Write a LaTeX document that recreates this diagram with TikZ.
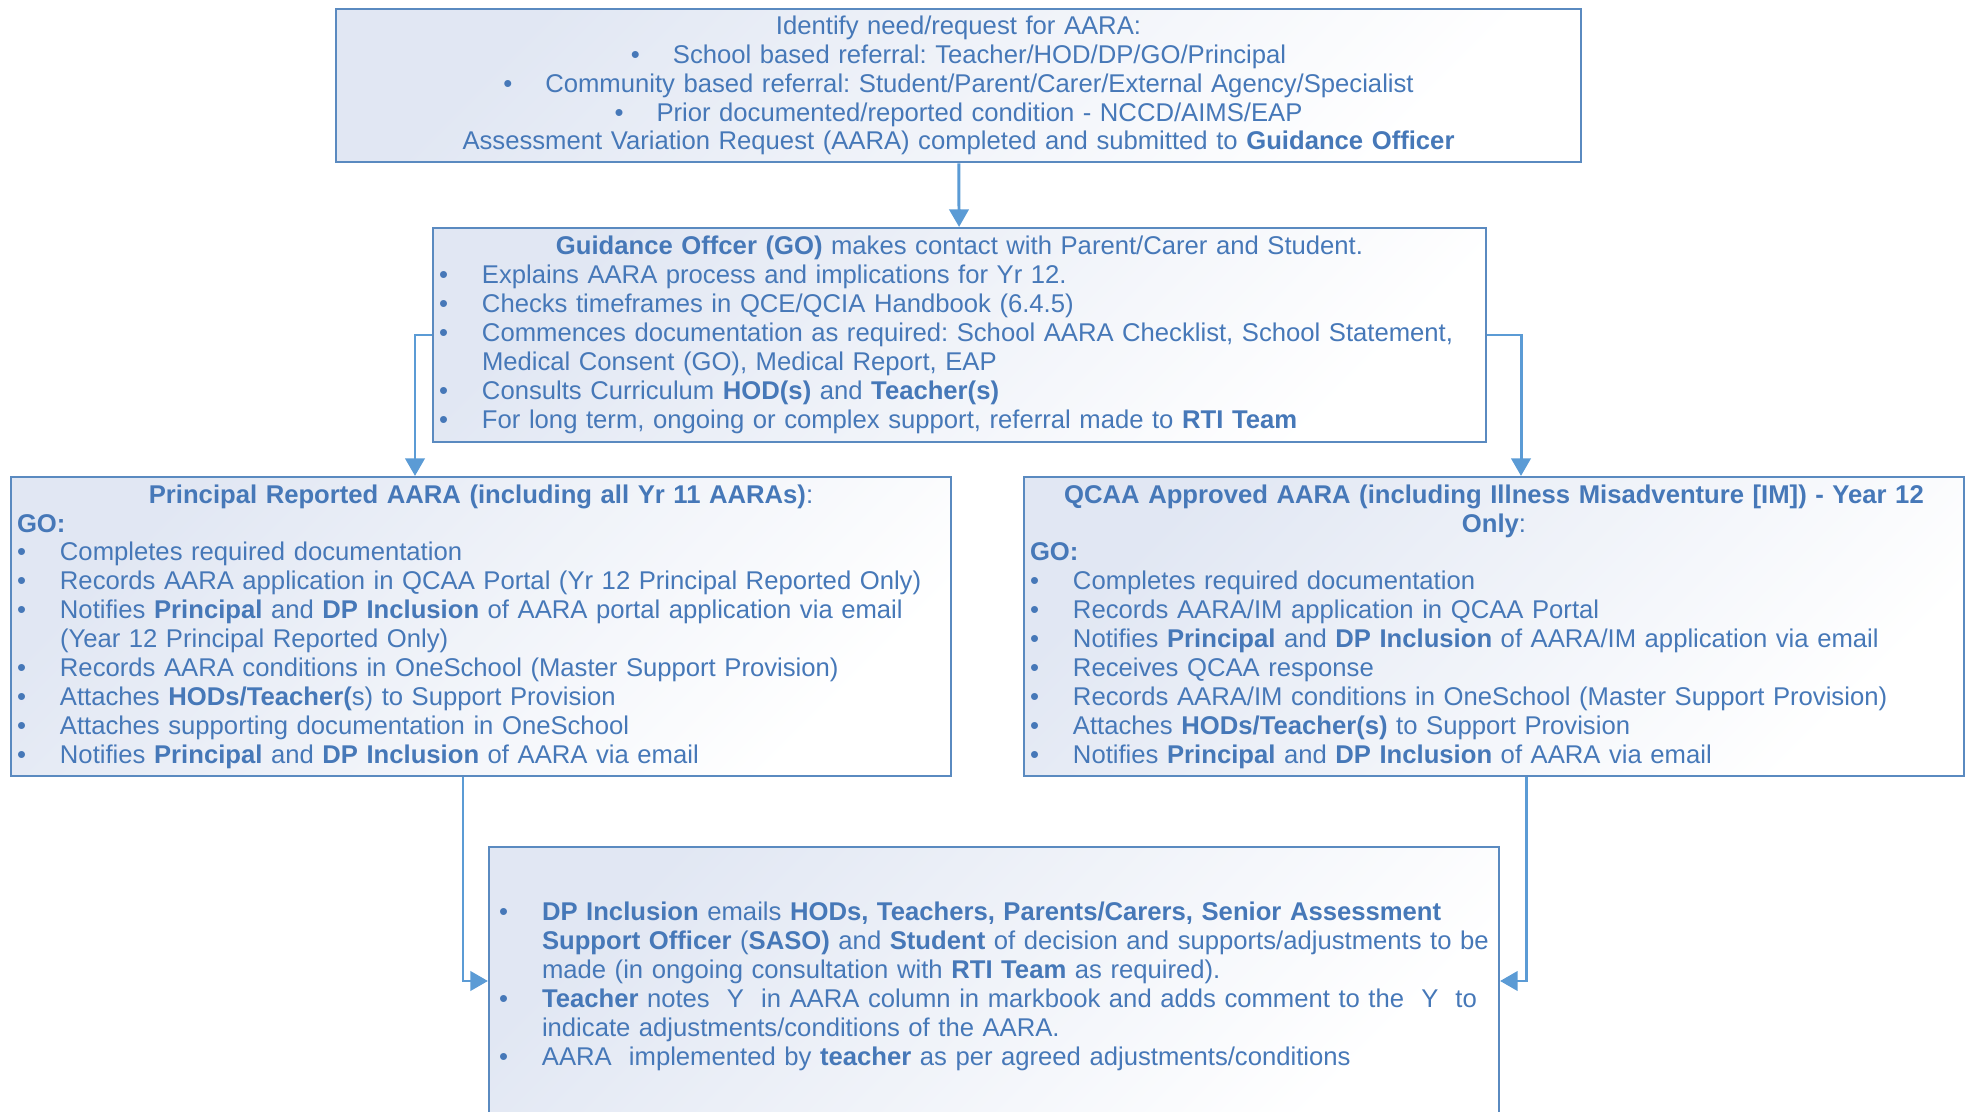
\documentclass[tikz,border=0pt]{standalone}
\usepackage{fontspec}
\setmainfont{Liberation Sans}
\usetikzlibrary{arrows.meta}

\definecolor{boxline}{HTML}{5A8AC0}
\definecolor{boxtext}{HTML}{4678B8}
\definecolor{linkline}{HTML}{5B9BD5}
\definecolor{boxshade}{HTML}{E1E7F3}

% bullet with hanging indent
\newcommand{\blt}{\par\noindent\hangindent=0.43cm\hangafter=1\makebox[0.43cm][l]{\textbullet}}
\newcommand{\cblt}{\textbullet\hspace{0.33cm}}

\begin{document}
\frenchspacing
\begin{tikzpicture}[
    stage/.style={draw=boxline, line width=0.6pt, shading=axis, top color=boxshade,
                  bottom color=white, shading angle=45, text=boxtext,
                  inner xsep=0.06cm, inner ysep=0pt,
                  font=\fontsize{7.3}{8.22}\selectfont},
    request/.style={stage, text width=12.33cm, minimum height=1.535cm, align=center},
    contact/.style={stage, text width=10.41cm, minimum height=2.14cm, align=left},
    branch/.style={stage, text width=9.28cm, minimum height=2.99cm, align=left},
    outcome/.style={stage, text width=9.90cm, minimum height=2.68cm, align=left, inner xsep=0.1cm},
    link/.style={draw=linkline, line width=0.85pt, -{Triangle[width=5.5pt,length=5pt]}},
  ]
    \useasboundingbox (0,0) rectangle (19.68,-11.12);

    \node[request] (need) at (9.585,-0.855) {Identify need/request for AARA:\\
      \cblt School based referral: Teacher/HOD/DP/GO/Principal\\
      \cblt Community based referral: Student/Parent/Carer/External Agency/Specialist\\
      \cblt Prior documented/reported condition - NCCD/AIMS/EAP\\
      Assessment Variation Request (AARA) completed and submitted to \textbf{Guidance Officer}};

    \node[contact] (guidance) at (9.595,-3.35) {%
      {\centering\textbf{Guidance Offcer (GO)} makes contact with Parent/Carer and Student.\par}
      \blt Explains AARA process and implications for Yr 12.
      \blt Checks timeframes in QCE/QCIA Handbook (6.4.5)
      \blt Commences documentation as required: School AARA Checklist, School Statement,\newline
           Medical Consent (GO), Medical Report, EAP
      \blt Consults Curriculum \textbf{HOD(s)} and \textbf{Teacher(s)}
      \blt For long term, ongoing or complex support, referral made to \textbf{RTI Team}};

    \node[branch] (principal) at (4.81,-6.265) {%
      {\centering\textbf{Principal Reported AARA (including all Yr 11 AARAs)}:\par}
      \noindent\textbf{GO:}
      \blt Completes required documentation
      \blt Records AARA application in QCAA Portal (Yr 12 Principal Reported Only)
      \blt Notifies \textbf{Principal} and \textbf{DP Inclusion} of AARA portal application via email\newline
           (Year 12 Principal Reported Only)
      \blt Records AARA conditions in OneSchool (Master Support Provision)
      \blt Attaches \textbf{HODs/Teacher(}s) to Support Provision
      \blt Attaches supporting documentation in OneSchool
      \blt Notifies \textbf{Principal} and \textbf{DP Inclusion} of AARA via email};

    \node[branch] (qcaa) at (14.94,-6.265) {%
      {\centering\textbf{QCAA Approved AARA (including Illness Misadventure [IM]) - Year 12}\\
       \textbf{Only}:\par}
      \noindent\textbf{GO:}
      \blt Completes required documentation
      \blt Records AARA/IM application in QCAA Portal
      \blt Notifies \textbf{Principal} and \textbf{DP Inclusion} of AARA/IM application via email
      \blt Receives QCAA response
      \blt Records AARA/IM conditions in OneSchool (Master Support Provision)
      \blt Attaches \textbf{HODs/Teacher(s)} to Support Provision
      \blt Notifies \textbf{Principal} and \textbf{DP Inclusion} of AARA via email};

    \node[outcome] (implement) at (9.94,-9.81) {%
      \blt \textbf{DP Inclusion} emails \textbf{HODs, Teachers, Parents/Carers, Senior Assessment}\newline
           \textbf{Support Officer} (\textbf{SASO)} and \textbf{Student} of decision and supports/adjustments to be\newline
           made (in ongoing consultation with \textbf{RTI Team} as required).
      \blt \textbf{Teacher} notes \ Y \ in AARA column in markbook and adds comment to the \ Y \ to\newline
           indicate adjustments/conditions of the AARA.
      \blt AARA \ implemented by \textbf{teacher} as per agreed adjustments/conditions};

    \draw[link] (need) -- (guidance);
    \draw[link] (guidance.west) -| ([xshift=-0.66cm]principal.north);
    \draw[link] (guidance.east) -| ([xshift=0.27cm]qcaa.north);
    \draw[link] ([xshift=-0.18cm]principal.south) |- (implement.west);
    \draw[link] ([xshift=0.32cm]qcaa.south) |- (implement.east);
\end{tikzpicture}
\end{document}
